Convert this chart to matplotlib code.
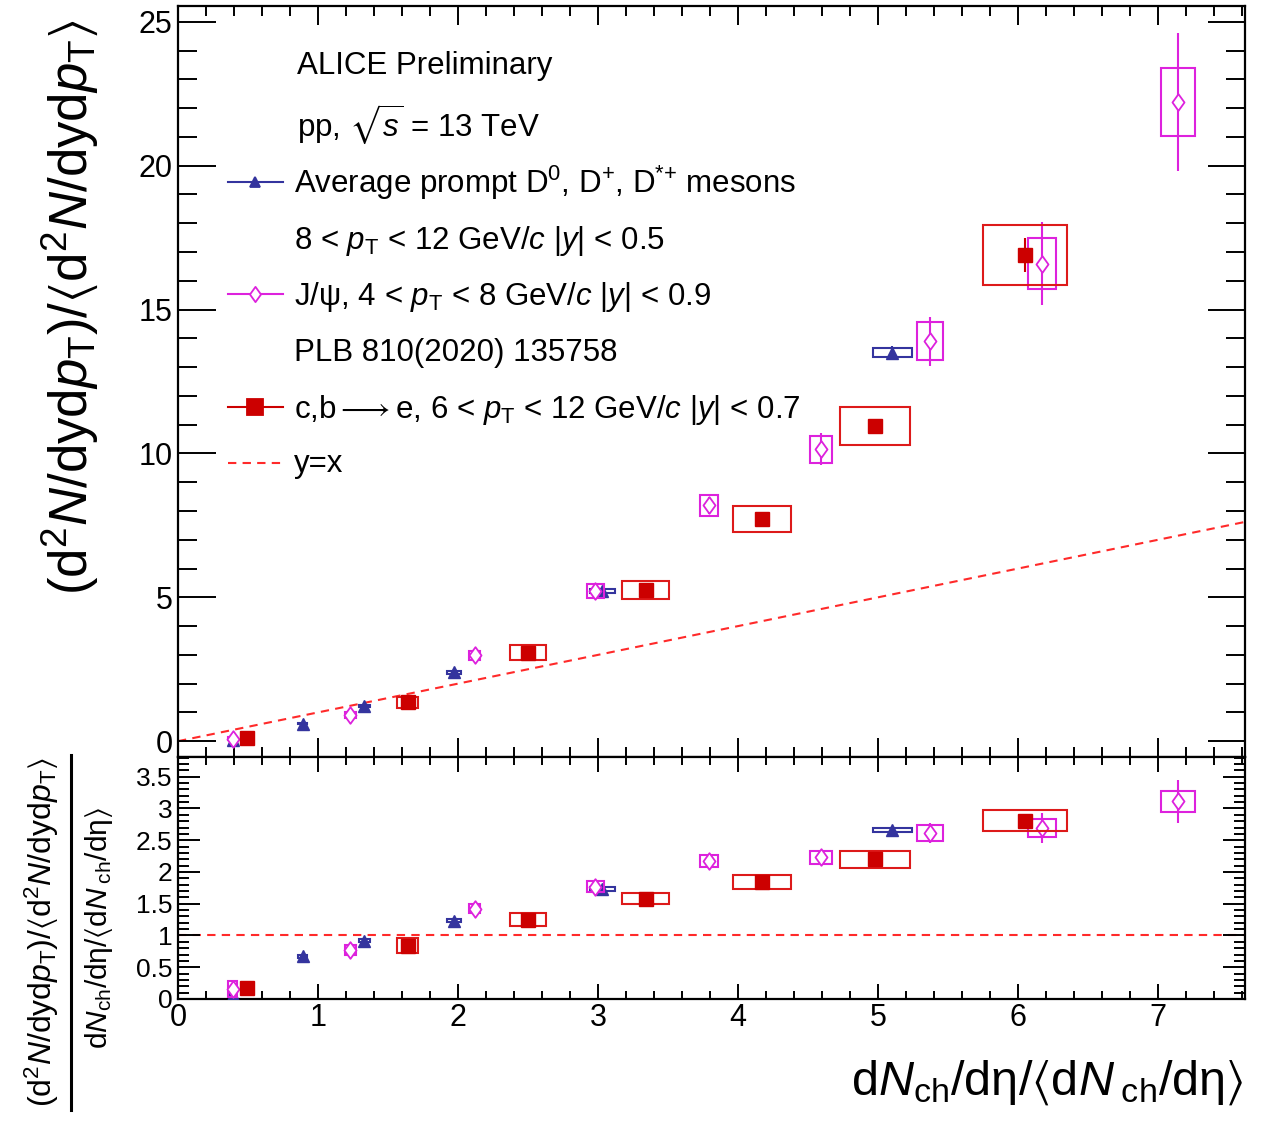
import matplotlib
matplotlib.use("Agg")
import matplotlib.pyplot as plt
from matplotlib.patches import Rectangle
from matplotlib.lines import Line2D
from matplotlib.path import Path
from matplotlib.ticker import MultipleLocator, FormatStrFormatter

plt.rcParams['font.family'] = ['Liberation Sans', 'DejaVu Sans']
plt.rcParams['mathtext.fontset'] = 'custom'
plt.rcParams['mathtext.rm'] = 'Liberation Sans'
plt.rcParams['mathtext.it'] = 'Liberation Sans:italic'
plt.rcParams['mathtext.bf'] = 'Liberation Sans:bold'
plt.rcParams['mathtext.sf'] = 'Liberation Sans'
plt.rcParams['mathtext.fallback'] = 'stixsans'

# ---------------- data ----------------
# Average prompt D mesons
d_x = [0.39, 0.89, 1.33, 1.97, 3.03, 5.10]
d_y = [0.03, 0.60, 1.22, 2.40, 5.22, 13.50]
d_ratio = [0.06, 0.67, 0.92, 1.23, 1.73, 2.66]
d_stat = [0.02, 0.03, 0.04, 0.06, 0.10, 0.25]
d_sysx = [0.02, 0.03, 0.04, 0.05, 0.09, 0.14]
d_sysy = [0.01, 0.02, 0.03, 0.05, 0.08, 0.15]

# J/psi
j_x = [0.39, 1.23, 2.12, 2.98, 3.79, 4.59, 5.37, 6.17, 7.14]
j_y = [0.08, 0.92, 2.98, 5.22, 8.20, 10.15, 13.90, 16.60, 22.20]
j_ratio = [0.16, 0.77, 1.42, 1.77, 2.17, 2.23, 2.61, 2.69, 3.11]
j_stat = [0.05, 0.10, 0.15, 0.20, 0.30, 0.55, 0.85, 1.45, 2.40]
j_sysx = [0.03, 0.04, 0.04, 0.06, 0.065, 0.08, 0.09, 0.10, 0.12]
j_sysy = [0.05, 0.10, 0.15, 0.25, 0.37, 0.47, 0.66, 0.87, 1.18]

# c,b -> e
e_x = [0.49, 1.64, 2.50, 3.34, 4.17, 4.98, 6.05]
e_y = [0.10, 1.35, 3.08, 5.25, 7.72, 10.95, 16.90]
e_ratio = [0.17, 0.84, 1.25, 1.58, 1.84, 2.20, 2.81]
e_stat = [0.02, 0.05, 0.08, 0.10, 0.15, 0.25, 0.60]
e_sysx = [0.03, 0.075, 0.13, 0.17, 0.21, 0.25, 0.30]
e_sysy = [0.03, 0.20, 0.25, 0.30, 0.45, 0.66, 1.04]

# ---------------- style ----------------
C_D = '#34349e'
C_J = '#dd22dd'
C_E = '#cc0000'
C_EBOX = '#dd1a1a'
C_LINE = '#ff2a2a'

diamond = Path([(0, 1), (0.72, 0), (0, -1), (-0.72, 0), (0, 1)],
               [Path.MOVETO, Path.LINETO, Path.LINETO, Path.LINETO, Path.CLOSEPOLY])

W, H = 1261, 1124
fig = plt.figure(figsize=(W / 100, H / 100), dpi=100)
L, R = 178, 1245
T1, B1, B2 = 6, 757, 999
ax1 = fig.add_axes([L / W, 1 - B1 / H, (R - L) / W, (B1 - T1) / H])
ax2 = fig.add_axes([L / W, 1 - B2 / H, (R - L) / W, (B2 - B1) / H])

XMAX = 7.62
ax1.set_xlim(0, XMAX)
ax1.set_ylim(-0.55, 25.55)
ax2.set_xlim(0, XMAX)
ax2.set_ylim(0, 3.81)


def draw(ax, x, y, stat, sysx, sysy, color, boxcolor, marker, ms, mfc, mew, z):
    for xi, yi, sx, sy in zip(x, y, sysx, sysy):
        ax.add_patch(Rectangle((xi - sx, yi - sy), 2 * sx, 2 * sy, fill=False,
                               ec=boxcolor, lw=1.5, zorder=z))
    ax.errorbar(x, y, yerr=stat, fmt='none', ecolor=color, elinewidth=1.5,
                capsize=0, zorder=z + 0.1)
    ax.plot(x, y, ls='none', marker=marker, ms=ms, mfc=mfc, mec=color,
            mew=mew, zorder=z + 0.2)


def rel(v, x):
    return [a / b for a, b in zip(v, x)]


# y=x and y=1 references
ax1.axline((0, 0), slope=1, color=C_LINE, lw=1.5, ls=(0, (4, 3)), zorder=1)
ax2.axhline(1, color=C_LINE, lw=1.5, ls=(0, (4, 3)), zorder=1)

# top panel
draw(ax1, d_x, d_y, d_stat, d_sysx, d_sysy, C_D, C_D, '^', 9, C_D, 1, 3)
draw(ax1, j_x, j_y, j_stat, j_sysx, j_sysy, C_J, C_J, diamond, 12, 'white', 1.3, 4)
draw(ax1, e_x, e_y, e_stat, e_sysx, e_sysy, C_E, C_EBOX, 's', 10.5, C_E, 1, 5)

# ratio panel
draw(ax2, d_x, d_ratio, rel(d_stat, d_x), d_sysx, rel(d_sysy, d_x), C_D, C_D, '^', 9, C_D, 1, 3)
draw(ax2, j_x, j_ratio, rel(j_stat, j_x), j_sysx, rel(j_sysy, j_x), C_J, C_J, diamond, 12, 'white', 1.3, 4)
draw(ax2, e_x, e_ratio, rel(e_stat, e_x), e_sysx, rel(e_sysy, e_x), C_E, C_EBOX, 's', 10.5, C_E, 1, 5)

# ---------------- axes / ticks ----------------
for ax in (ax1, ax2):
    for s in ax.spines.values():
        s.set_linewidth(1.6)
    ax.xaxis.set_major_locator(MultipleLocator(1))
    ax.xaxis.set_minor_locator(MultipleLocator(0.2))
    ax.tick_params(which='both', direction='in', top=True, right=True,
                   width=1.4, colors='black')

ax1.yaxis.set_major_locator(MultipleLocator(5))
ax1.yaxis.set_minor_locator(MultipleLocator(1))
ax1.yaxis.set_major_formatter(FormatStrFormatter('%g'))
ax1.tick_params(axis='y', which='major', length=27, labelsize=22, pad=4)
ax1.tick_params(axis='y', which='minor', length=14)
ax1.tick_params(axis='x', which='major', length=14)
ax1.tick_params(axis='x', which='minor', length=7)
ax1.tick_params(axis='x', labelbottom=False)

ax2.yaxis.set_major_locator(MultipleLocator(0.5))
ax2.yaxis.set_minor_locator(MultipleLocator(0.1))
ax2.yaxis.set_major_formatter(FormatStrFormatter('%g'))
ax2.xaxis.set_major_formatter(FormatStrFormatter('%g'))
ax2.tick_params(axis='y', which='major', length=16, labelsize=19, pad=4)
ax2.tick_params(axis='y', which='minor', length=8)
ax2.tick_params(axis='x', which='major', length=11, labelsize=22, pad=3)
ax2.tick_params(axis='x', which='minor', length=6)

# ---------------- legend (manual, ROOT-like) ----------------
def axf(px, py):
    return ((px - L) / (R - L), (B1 - py) / (B1 - T1))

FS = 22.5
tx = 294
rows = [
    (297, 74, 'ALICE Preliminary'),
    (297, 136, r'pp, $\sqrt{s}$ = 13 TeV'),
    (tx, 193, r'Average prompt D$^{0}$, D$^{+}$, D$^{\text{*+}}$ mesons'),
    (tx, 249, r'8 < $p_{\rm T}$ < 12 GeV/$c$ |$y$| < 0.5'),
    (tx, 305, r'J/ψ, 4 < $p_{\rm T}$ < 8 GeV/$c$ |$y$| < 0.9'),
    (tx, 361, 'PLB 810(2020) 135758'),
    (tx, 418, r'c,b$\longrightarrow$e, 6 < $p_{\rm T}$ < 12 GeV/$c$ |$y$| < 0.7'),
    (tx, 472, 'y=x'),
]
for px, py, s in rows:
    fx, fy = axf(px, py)
    ax1.text(fx, fy, s, transform=ax1.transAxes, fontsize=FS, ha='left',
             va='baseline')

keys = [
    (182, C_D, '^', 7, C_D, '-'),
    (294, C_J, diamond, 11, 'white', '-'),
    (407, C_E, 's', 11, C_E, '-'),
    (463, C_LINE, None, 0, 'none', (0, (4, 3))),
]
for py, col, mk, ms, mfc, ls in keys:
    x0, yk = axf(228, py)
    x1, _ = axf(283, py)
    ax1.add_line(Line2D([x0, x1], [yk, yk], transform=ax1.transAxes, color=col,
                        lw=1.5, ls=ls, clip_on=False))
    if mk is not None:
        xm, _ = axf(255, py)
        ax1.add_line(Line2D([xm], [yk], transform=ax1.transAxes, marker=mk,
                            ms=ms, mfc=mfc, mec=col, mew=1.3, ls='none',
                            clip_on=False))

# ---------------- axis titles ----------------
fig.text(70 / W, 1 - 307 / H,
         r'(d$^{2}$$N$/dyd$p_{\rm T}$)/$\langle$d$^{2}$$N$/dyd$p_{\rm T}$$\rangle$',
         rotation=90, fontsize=38, ha='center', va='center')

fig.text(1244 / W, 1 - 1095 / H,
         r'd$N_{\rm ch}$/dη/$\langle$d$N_{\;\rm ch}$/dη$\rangle$',
         fontsize=35, ha='right', va='baseline')

fig.text(42 / W, 1 - 932 / H,
         r'(d$^{2}$$N$/dyd$p_{\rm T}$)/$\langle$d$^{2}$$N$/dyd$p_{\rm T}$$\rangle$',
         rotation=90, fontsize=23, ha='center', va='center')
fig.text(99 / W, 1 - 928 / H,
         r'd$N_{\rm ch}$/dη/$\langle$d$N_{\;\rm ch}$/dη$\rangle$',
         rotation=90, fontsize=21.5, ha='center', va='center')
fig.add_artist(Line2D([71 / W, 71 / W], [1 - 755 / H, 1 - 1110 / H],
                      transform=fig.transFigure, color='black', lw=2.2))

fig.savefig('out.png', dpi=100, facecolor='white')
